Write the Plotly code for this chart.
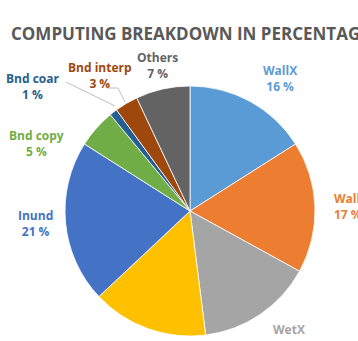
import plotly.graph_objects as go

W, H = 358, 341

labels = ["WallX", "WallY", "WetX", "WetY", "Inund", "Bnd copy", "Bnd coar", "Bnd interp", "Others"]
values = [16, 17, 15, 15, 21, 5, 1, 3, 7]
colors = ["#5B9BD5", "#ED7D31", "#A5A5A5", "#FFC000", "#4472C4", "#70AD47", "#255E91", "#9E480E", "#636363"]
show_pct = [True, True, False, False, True, True, True, True, True]

title = "COMPUTING BREAKDOWN IN PERCENTAGE"

# label placement in pixels (anchor x, center y of the text block)
label_pos = {
    "WallX": (280, 78, "center"),
    "WallY": (332, 206, "left"),
    "WetX": (289, 329, "center"),
    "WetY": (122, 348, "center"),
    "Inund": (35, 223, "center"),
    "Bnd copy": (36, 143, "center"),
    "Bnd coar": (33, 86, "center"),
    "Bnd interp": (100, 75, "center"),
    "Others": (157, 65, "center"),
}

def px(x, y):
    return x / W, 1 - y / H

cx, cy, r = 190, 211, 125
x0, _ = px(cx - r, 0)
x1, _ = px(cx + r, 0)
_, y0 = px(0, cy + r)
_, y1 = px(0, cy - r)

fig = go.Figure(go.Pie(
    labels=labels, values=values, sort=False, direction="clockwise", rotation=0,
    marker=dict(colors=colors, line=dict(color="white", width=0.8)),
    textinfo="none", hoverinfo="label+percent", showlegend=False,
    domain=dict(x=[x0, x1], y=[y0, y1]),
))

annotations = []
for lab, val, col, sp in zip(labels, values, colors, show_pct):
    lx, ly, al = label_pos[lab]
    ax, ay = px(lx, ly)
    txt = f"{lab}<br>{val} %" if sp else lab
    annotations.append(dict(
        x=ax, y=ay, xref="paper", yref="paper", text=f"<b>{txt}</b>", showarrow=False,
        xanchor=al, yanchor="middle", align=al,
        font=dict(family="Open Sans", size=12, color=col),
    ))

tx, ty = px(9, 33)
annotations.append(dict(
    x=tx, y=ty, xref="paper", yref="paper", text=f"<b>{title}</b>", showarrow=False,
    xanchor="left", yanchor="middle", font=dict(family="Open Sans", size=17, color="#595959"),
))

shapes = []
leaders = [
    [(66, 82), (115, 106)],
    [(107, 88), (118, 88), (125, 102)],
]
for pts in leaders:
    for (a, b), (c, d) in zip(pts[:-1], pts[1:]):
        xa, ya = px(a, b)
        xc, yc = px(c, d)
        shapes.append(dict(type="line", xref="paper", yref="paper", x0=xa, y0=ya, x1=xc, y1=yc,
                           line=dict(color="#BFBFBF", width=1)))

fig.update_layout(
    width=W, height=H, margin=dict(l=0, r=0, t=0, b=0),
    paper_bgcolor="white", plot_bgcolor="white",
    annotations=annotations, shapes=shapes,
)

fig.write_html("out.html")
